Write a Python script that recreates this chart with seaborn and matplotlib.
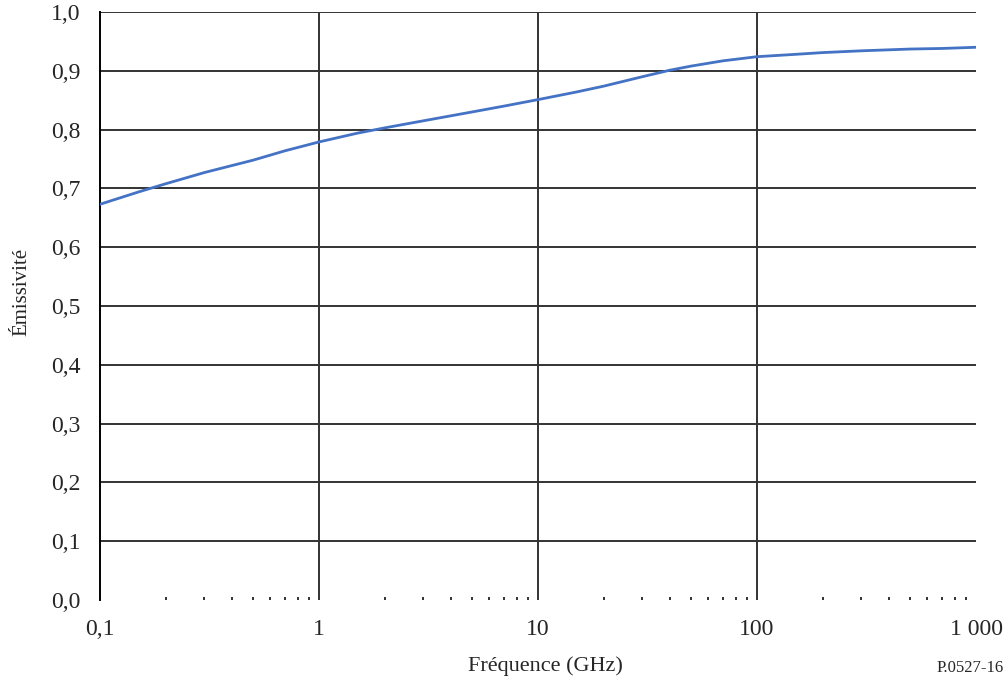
import matplotlib
matplotlib.use("Agg")
import matplotlib.pyplot as plt
import seaborn as sns
import pandas as pd
from matplotlib.ticker import LogLocator, NullFormatter

# data
freq_ghz = [0.1, 0.15, 0.2, 0.3, 0.5, 0.7, 1, 1.5, 2, 3, 5, 7, 10, 15, 20, 30, 40, 50, 70, 100, 150, 200, 300, 500, 700, 1000]
emissivity = [0.673, 0.694, 0.708, 0.727, 0.748, 0.764, 0.779, 0.794, 0.803, 0.815, 0.830, 0.840, 0.851, 0.864, 0.874, 0.890, 0.901, 0.908, 0.917, 0.924, 0.928, 0.931, 0.934, 0.937, 0.938, 0.940]

x_ticks = [0.1, 1, 10, 100, 1000]
x_labels = ["0,1", "1", "10", "100", "1 000"]
y_ticks = [0.0, 0.1, 0.2, 0.3, 0.4, 0.5, 0.6, 0.7, 0.8, 0.9, 1.0]
y_labels = ["0,0", "0,1", "0,2", "0,3", "0,4", "0,5", "0,6", "0,7", "0,8", "0,9", "1,0"]

df = pd.DataFrame({"freq": freq_ghz, "emis": emissivity})

sns.set_style("white")
plt.rcParams["font.family"] = ["Liberation Serif", "DejaVu Serif"]

fig = plt.figure(figsize=(10.07, 6.84), dpi=100)
ax = fig.add_axes([100 / 1007, 84 / 684, 876 / 1007, 588 / 684])

# grid lines
for y in y_ticks[1:]:
    ax.axhline(y, color="#333333", lw=1.4, zorder=1)
for x in x_ticks[1:-1]:
    ax.axvline(x, color="#333333", lw=1.4, zorder=1)

sns.lineplot(data=df, x="freq", y="emis", ax=ax, color="#4472C4", lw=2, zorder=3)

ax.set_xscale("log")
ax.set_xlim(0.1, 1000)
ax.set_ylim(0, 1.0)
ax.set_xticks(x_ticks)
ax.set_xticklabels(x_labels, fontsize=17)
ax.xaxis.set_minor_locator(LogLocator(base=10, subs=range(2, 10)))
ax.xaxis.set_minor_formatter(NullFormatter())
ax.set_yticks(y_ticks)
ax.set_yticklabels(y_labels, fontsize=17)
ax.tick_params(axis="x", which="both", bottom=True)
ax.tick_params(axis="x", which="major", length=0, pad=14)
ax.tick_params(axis="x", which="minor", direction="in", length=2, width=1.3, color="#222222")
ax.tick_params(axis="y", length=0, pad=14)

for s in ["right", "bottom", "top"]:
    ax.spines[s].set_visible(False)
ax.spines["left"].set_color("black")
ax.spines["left"].set_linewidth(1.4)

ax.set_xlabel("Fréquence (GHz)", fontsize=16)
ax.xaxis.set_label_coords(0.508, -0.095)
ax.set_ylabel("Émissivité", fontsize=15)
ax.yaxis.set_label_coords(-0.078, 0.524)
fig.text(1004 / 1007, 1 - 668 / 684, "P.0527-16", fontsize=12, ha="right", va="center")

fig.savefig("out.png", dpi=100)
